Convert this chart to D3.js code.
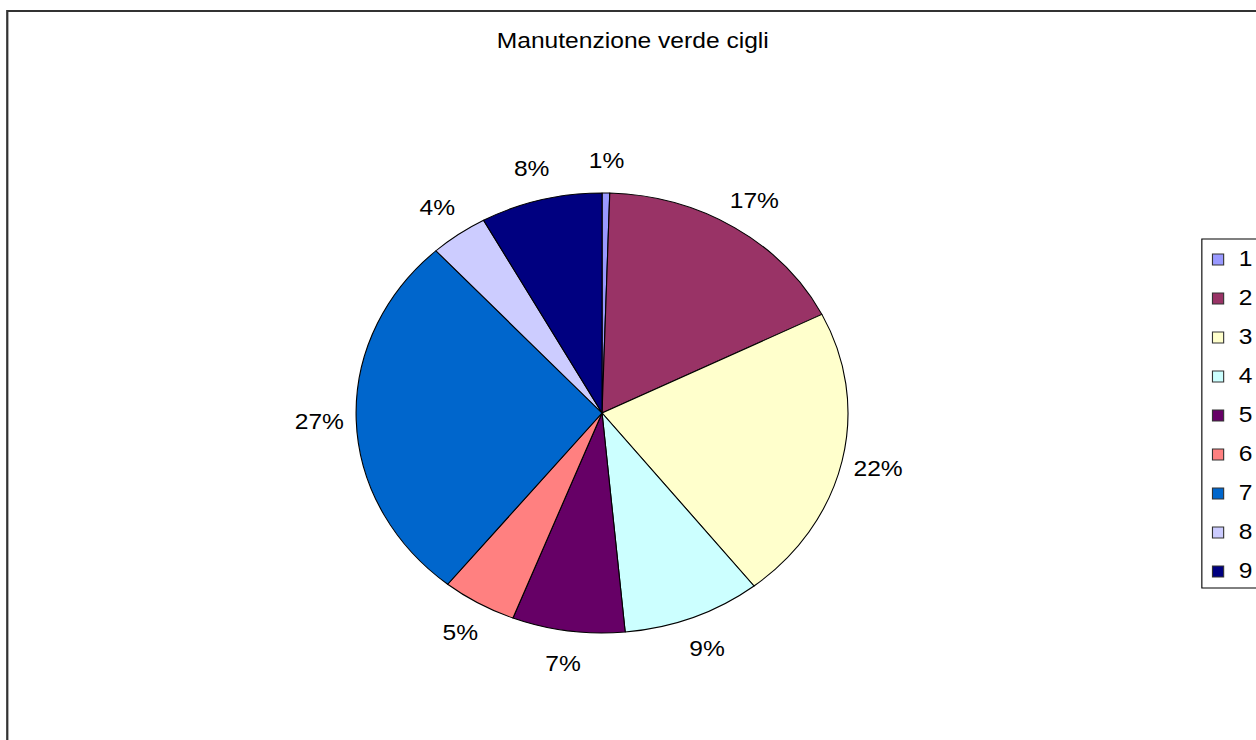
<!DOCTYPE html>
<html>
<head>
<meta charset="utf-8">
<script src="https://cdn.jsdelivr.net/npm/d3@7"></script>
<style>
  html, body { margin: 0; padding: 0; background: #fff; overflow: hidden; }
  svg { display: block; }
  text { font-family: "Liberation Sans", Arial, sans-serif; fill: #000; }
</style>
</head>
<body>
<svg id="chart"></svg>
<script>
const title = "Manutenzione verde cigli";
const categories = ["1", "2", "3", "4", "5", "6", "7", "8", "9"];
const values = [0.5, 17.1, 21.8, 9.1, 7.4, 4.9, 27.4, 3.8, 8.0];
const colors = ["#9999FF", "#993366", "#FFFFCC", "#CCFFFF", "#660066", "#FF8080", "#0066CC", "#CCCCFF", "#000080"];

const pxW = 1256, pxH = 740;
const stretch = 1.118;            // reference is horizontally stretched
const W = pxW / stretch, H = pxH;

const svg = d3.select("#chart")
  .attr("width", pxW).attr("height", pxH)
  .attr("viewBox", `0 0 ${W} ${H}`)
  .attr("preserveAspectRatio", "none");

svg.append("rect").attr("width", W).attr("height", H).attr("fill", "#fff");

// outer frame
svg.append("rect")
  .attr("x", 6.5).attr("y", 11)
  .attr("width", W + 20).attr("height", H + 20)
  .attr("fill", "none").attr("stroke", "#333").attr("stroke-width", 2);

// title
svg.append("text")
  .attr("x", 566).attr("y", 48)
  .attr("text-anchor", "middle")
  .style("font-size", "22px")
  .text(title);

// pie
const cx = 538.5, cy = 413, r = 220;
const total = d3.sum(values);
const data = categories.map((c, i) => ({ cat: c, value: values[i], color: colors[i] }));
const pie = d3.pie().value(d => d.value).sort(null);
const arcs = pie(data);
const arc = d3.arc().innerRadius(0).outerRadius(r);

const g = svg.append("g").attr("transform", `translate(${cx},${cy})`);
g.selectAll("path").data(arcs).join("path")
  .attr("d", arc)
  .attr("fill", d => d.data.color)
  .attr("stroke", "#000")
  .attr("stroke-width", 1)
  .attr("stroke-linejoin", "round");

const k = 1.15;
g.selectAll("text.lbl").data(arcs).join("text")
  .attr("class", "lbl")
  .attr("x", d => { const a = (d.startAngle + d.endAngle) / 2; return Math.sin(a) * r * k; })
  .attr("y", d => { const a = (d.startAngle + d.endAngle) / 2; return -Math.cos(a) * r * k; })
  .attr("text-anchor", "middle")
  .attr("dy", "0.36em")
  .style("font-size", "22px")
  .text(d => Math.round(d.data.value / total * 100) + "%");

// legend
const lx = 1075, ly = 239, lh = 349, step = 39;
const legend = svg.append("g");
legend.append("rect")
  .attr("x", lx).attr("y", ly).attr("width", 200).attr("height", lh)
  .attr("fill", "#fff").attr("stroke", "#000").attr("stroke-width", 1);
const yScale = d3.scalePoint().domain(categories).range([259.5, 259.5 + step * 8]);
const items = legend.selectAll("g.item").data(data).join("g").attr("class", "item")
  .attr("transform", d => `translate(0,${yScale(d.cat)})`);
items.append("rect")
  .attr("x", lx + 9.5).attr("y", -5.5).attr("width", 10).attr("height", 11)
  .attr("fill", d => d.color).attr("stroke", "#333").attr("stroke-width", 1);
items.append("text")
  .attr("x", lx + 33).attr("y", 6)
  .style("font-size", "22px")
  .text(d => d.cat);
</script>
</body>
</html>
